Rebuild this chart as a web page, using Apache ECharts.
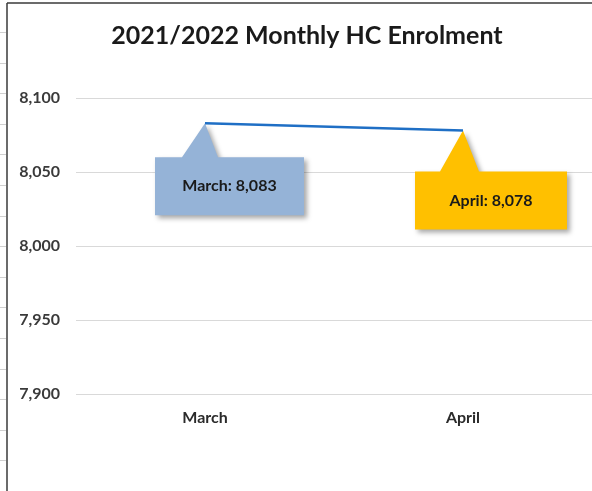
<!DOCTYPE html>
<html>
<head>
<meta charset="utf-8">
<script src="https://cdn.jsdelivr.net/npm/echarts@6/dist/echarts.min.js"></script>
<style>
  html, body { margin: 0; padding: 0; background: #fff; }
  #chart { width: 592px; height: 491px; }
</style>
</head>
<body>
<div id="chart"></div>
<script>
// data
const months = ['March', 'April'];
const enrolment = [8083, 8078];
const yTicks = [7900, 7950, 8000, 8050, 8100];
const calloutColors = ['#95B3D7', '#FFC000'];

// callout box geometry relative to the data point (px)
const calloutBox = [
    { dx: -50, dy: 34, w: 149, h: 58, b0: -23, b1: 13 },
    { dx: -48, dy: 41, w: 152, h: 58, b0: -23, b1: 16 }
];

const fmt = v => v.toLocaleString('en-US');
const FONT = 'Lato, "Open Sans", sans-serif';

const chart = echarts.init(document.getElementById('chart'));

// spreadsheet row marks at the left edge
const rowMarks = [];
for (let y = 32; y < 491; y += 30.6) {
    rowMarks.push({
        type: 'line', silent: true,
        shape: { x1: 0, y1: Math.round(y) + 0.5, x2: 6, y2: Math.round(y) + 0.5 },
        style: { stroke: '#d0d0d0', lineWidth: 1 }
    });
}

const option = {
    animation: false,
    backgroundColor: '#fff',
    title: {
        text: '2021/2022 Monthly HC Enrolment',
        left: 302,
        textAlign: 'center',
        top: 18,
        textStyle: { fontFamily: FONT, fontSize: 25, fontWeight: 'bold', color: '#1a1a1a' }
    },
    grid: { left: 76, right: 0, top: 98, bottom: 97 },
    xAxis: {
        type: 'category',
        data: months,
        boundaryGap: true,
        axisLine: { show: false },
        axisTick: { show: false },
        axisLabel: { margin: 16, fontFamily: FONT, fontSize: 16, fontWeight: 'bold', color: '#2b2b2b' }
    },
    yAxis: {
        type: 'value',
        min: yTicks[0],
        max: yTicks[yTicks.length - 1],
        interval: 50,
        axisLine: { show: false },
        axisTick: { show: false },
        splitLine: { lineStyle: { color: '#d9d9d9', width: 1 } },
        axisLabel: {
            margin: 16,
            fontFamily: FONT, fontSize: 16, fontWeight: 'bold', color: '#3a3a3a',
            formatter: v => fmt(v)
        }
    },
    series: [
        {
            type: 'custom',
            coordinateSystem: 'cartesian2d',
            z: 1,
            encode: { x: 0, y: 1 },
            data: enrolment.map((v, i) => [i, v]),
            renderItem: function (params, api) {
                const i = params.dataIndex;
                const p = api.coord([api.value(0), api.value(1)]);
                const c = calloutBox[i];
                const x0 = p[0] + c.dx, y0 = p[1] + c.dy;
                const x1 = x0 + c.w, y1 = y0 + c.h;
                return {
                    type: 'group',
                    children: [
                        {
                            type: 'polygon',
                            shape: {
                                points: [[x0, y0], [p[0] + c.b0, y0], [p[0], p[1]],
                                    [p[0] + c.b1, y0], [x1, y0], [x1, y1], [x0, y1]]
                            },
                            style: {
                                fill: calloutColors[i],
                                shadowBlur: 5, shadowOffsetX: 3, shadowOffsetY: 3,
                                shadowColor: 'rgba(0,0,0,0.35)'
                            }
                        },
                        {
                            type: 'text',
                            style: {
                                text: months[i] + ': ' + fmt(enrolment[i]),
                                x: (x0 + x1) / 2, y: (y0 + y1) / 2,
                                align: 'center', verticalAlign: 'middle',
                                font: 'bold 16px ' + FONT,
                                fill: '#1a1a1a'
                            }
                        }
                    ]
                };
            }
        },
        {
            type: 'line',
            z: 2,
            data: enrolment,
            showSymbol: false,
            lineStyle: { color: '#1F6FC5', width: 2.5 }
        }
    ],
    graphic: rowMarks.concat([
        { type: 'line', silent: true, shape: { x1: 7, y1: 3, x2: 7, y2: 491 }, style: { stroke: '#3a3a3a', lineWidth: 1.5 } },
        { type: 'line', silent: true, shape: { x1: 7, y1: 3, x2: 592, y2: 3 }, style: { stroke: '#3a3a3a', lineWidth: 1.5 } }
    ])
};

chart.setOption(option);
</script>
</body>
</html>
